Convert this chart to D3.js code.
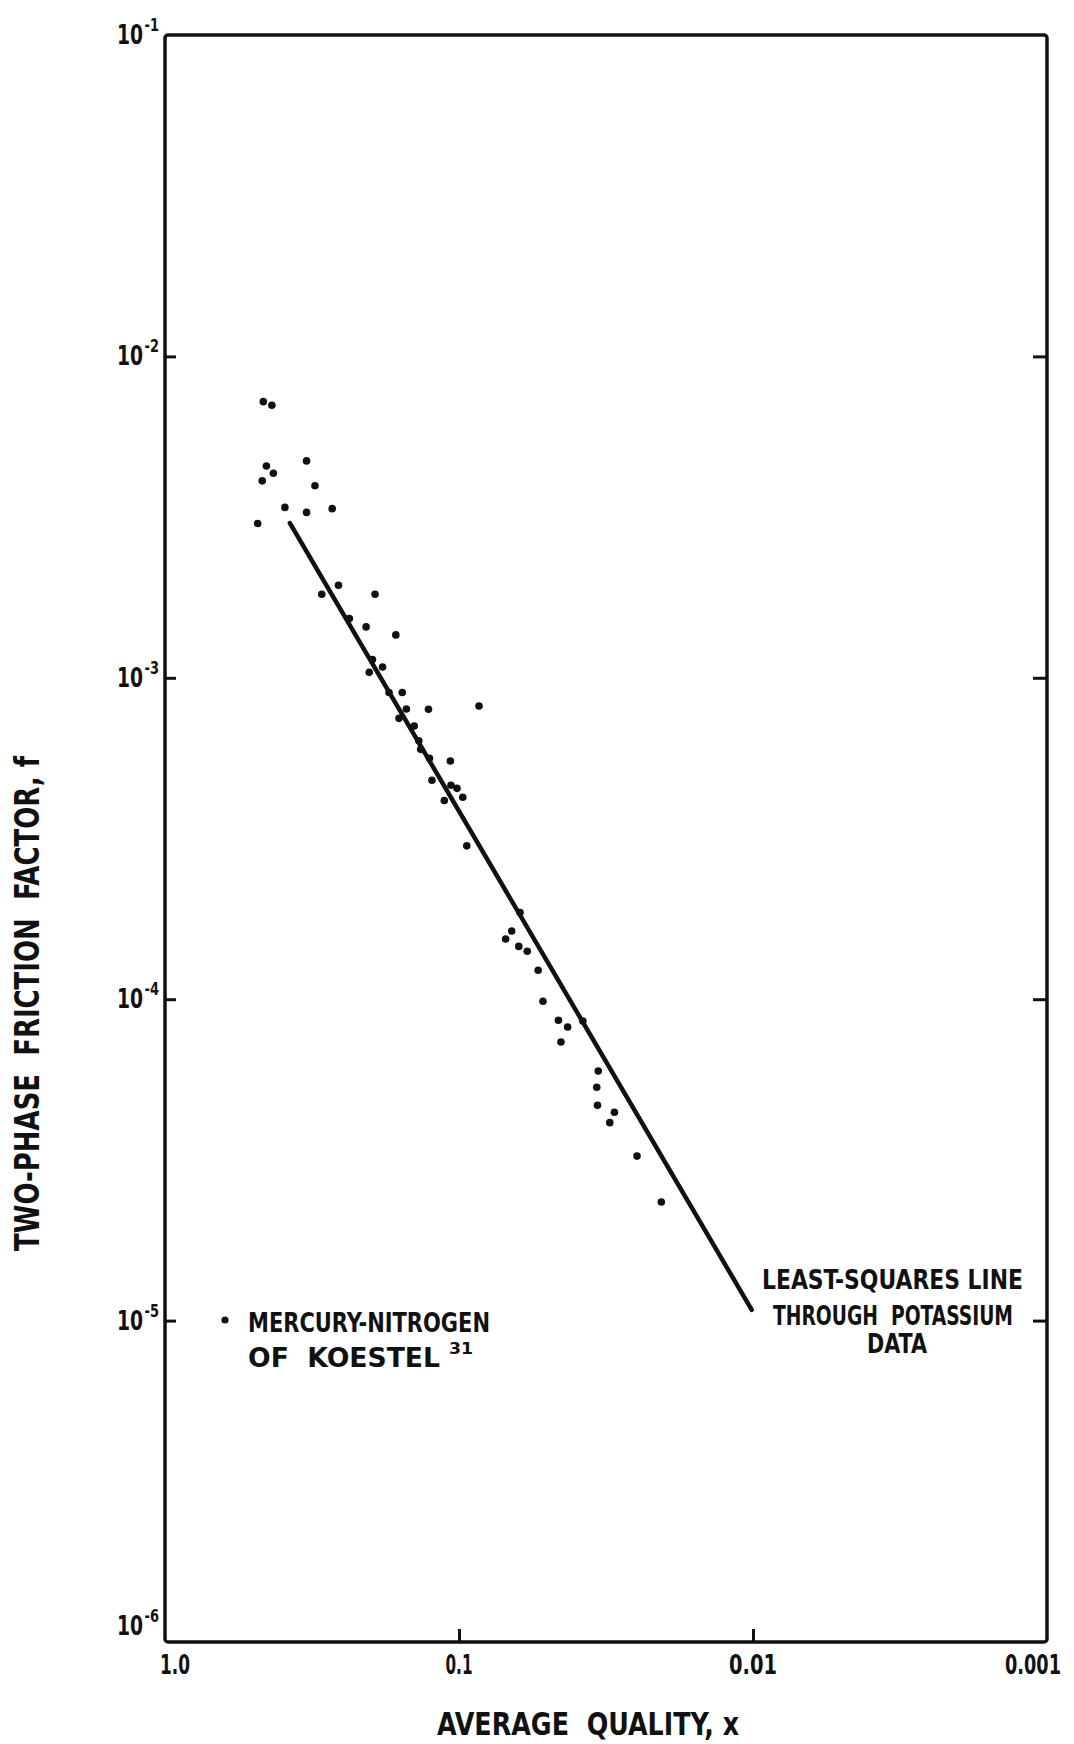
<!DOCTYPE html>
<html>
<head>
<meta charset="utf-8">
<script src="https://cdn.jsdelivr.net/npm/d3@7"></script>
<style>
  html, body { margin: 0; padding: 0; background: #fff; }
  svg { display: block; }
  text {
    font-family: 'DejaVu Sans Condensed', 'DejaVu Sans', sans-serif;
    font-weight: bold;
    fill: #111;
    white-space: pre;
  }
</style>
</head>
<body>
<svg id="chart" width="1074" height="1744"></svg>
<script>
// Mercury-nitrogen two-phase friction data (average quality x, friction factor f)
const qualityX = [
  0.463, 0.433, 0.452, 0.428, 0.467, 0.330, 0.309, 0.391, 0.330, 0.270,
  0.484, 0.293, 0.257, 0.193, 0.236, 0.207, 0.164, 0.197, 0.182, 0.202,
  0.173, 0.156, 0.151, 0.127, 0.0855, 0.160, 0.142, 0.137, 0.135, 0.126,
  0.107, 0.1236, 0.1065, 0.1016, 0.1122, 0.0971, 0.0941, 0.0620, 0.0662, 0.0694,
  0.0626, 0.0586, 0.0538, 0.0518, 0.0459, 0.0427, 0.0450, 0.0379, 0.0336, 0.0340,
  0.0338, 0.0296, 0.0307, 0.0248, 0.0205
];
const frictionF = [
  7.23e-3, 7.05e-3, 4.56e-3, 4.33e-3, 4.10e-3, 4.73e-3, 3.96e-3, 3.39e-3, 3.27e-3, 3.36e-3,
  3.02e-3, 1.82e-3, 1.94e-3, 1.82e-3, 1.53e-3, 1.44e-3, 1.36e-3, 1.14e-3, 1.08e-3, 1.04e-3,
  9.0e-4, 9.0e-4, 8.0e-4, 7.98e-4, 8.17e-4, 7.48e-4, 7.08e-4, 6.37e-4, 5.99e-4, 5.62e-4,
  5.51e-4, 4.80e-4, 4.63e-4, 4.53e-4, 4.15e-4, 4.25e-4, 3.00e-4, 1.86e-4, 1.63e-4, 1.54e-4,
  1.46e-4, 1.41e-4, 1.23e-4, 9.85e-5, 8.60e-5, 8.19e-5, 7.36e-5, 8.55e-5, 5.98e-5, 5.32e-5,
  4.68e-5, 4.45e-5, 4.13e-5, 3.25e-5, 2.34e-5
];

// Least-squares line through the potassium data (end points)
const fitX = [0.376, 0.0101];
const fitF = [3.03e-3, 1.08e-5];

// Axis ticks and labels
const xTickValues = [1, 0.1, 0.01, 0.001];
const xTickLabels = ["1.0", "0.1", "0.01", "0.001"];
const yTickValues = [1e-1, 1e-2, 1e-3, 1e-4, 1e-5, 1e-6];
const yTickExponents = ["-1", "-2", "-3", "-4", "-5", "-6"];

// Titles and annotations
const xTitle = "AVERAGE  QUALITY, x";
const yTitle = "TWO-PHASE  FRICTION  FACTOR, f";
const legendLines = ["MERCURY-NITROGEN", "OF  KOESTEL"];
const legendRef = "31";
const fitLabelLines = ["LEAST-SQUARES LINE", "THROUGH  POTASSIUM", "DATA"];

const ink = "#111";
const L = 165, R = 1047, T = 35, B = 1642;

const x = d3.scaleLog().domain([1, 0.001]).range([L, R]);
const y = d3.scaleLog().domain([1e-1, 1e-6]).range([T, B]);

const svg = d3.select("#chart");

function styleTicks(g) {
  g.select(".domain").remove();
  g.selectAll(".tick line").attr("stroke", ink).attr("stroke-width", 3);
}

// inward tick marks on left, right and bottom edges
const innerY = yTickValues.slice(1, -1);
svg.append("g")
  .attr("transform", `translate(${L},0)`)
  .call(d3.axisLeft(y).tickValues(innerY).tickSize(-11).tickFormat(""))
  .call(styleTicks);
svg.append("g")
  .attr("transform", `translate(${R},0)`)
  .call(d3.axisRight(y).tickValues(innerY).tickSize(-14).tickFormat(""))
  .call(styleTicks);
svg.append("g")
  .attr("transform", `translate(0,${B})`)
  .call(d3.axisBottom(x).tickValues(xTickValues.slice(1, -1)).tickSize(-13).tickFormat(""))
  .call(styleTicks);

// plot frame
svg.append("rect")
  .attr("x", L).attr("y", T)
  .attr("width", R - L).attr("height", B - T)
  .attr("rx", 3)
  .attr("fill", "none")
  .attr("stroke", ink)
  .attr("stroke-width", 3.5);

// y tick labels: "10" with a superscript exponent, narrowed horizontally
yTickValues.forEach((v, i) => {
  const yy = y(v);
  const base = Math.min(yy + 9, B - 7);
  const t = svg.append("text")
    .attr("transform", `translate(159,${base}) scale(0.8,1)`)
    .attr("text-anchor", "end")
    .attr("font-size", 26);
  t.append("tspan").text("10");
  t.append("tspan").attr("dx", 2).attr("dy", -13).attr("font-size", 18).text(yTickExponents[i]);
});

// x tick labels
const xLabelWidths = { "1.0": 30, "0.1": 27, "0.01": 48, "0.001": 56 };
xTickValues.forEach((v, i) => {
  const lab = xTickLabels[i];
  const w = xLabelWidths[lab];
  const cx = Math.max(L + 10, Math.min(R - 14, x(v)));
  svg.append("text")
    .attr("x", cx - w / 2).attr("y", 1674)
    .attr("font-size", 26)
    .attr("textLength", w).attr("lengthAdjust", "spacingAndGlyphs")
    .text(lab);
});

// axis titles
svg.append("text")
  .attr("x", 437).attr("y", 1735)
  .attr("font-size", 32)
  .attr("textLength", 302).attr("lengthAdjust", "spacingAndGlyphs")
  .text(xTitle);

svg.append("text")
  .attr("transform", "translate(39,1251) rotate(-90)")
  .attr("font-size", 33)
  .attr("textLength", 495).attr("lengthAdjust", "spacingAndGlyphs")
  .text(yTitle);

// least-squares line
svg.append("path")
  .datum(d3.zip(fitX, fitF))
  .attr("d", d3.line().x(d => x(d[0])).y(d => y(d[1])))
  .attr("fill", "none")
  .attr("stroke", ink)
  .attr("stroke-width", 4.5)
  .attr("stroke-linecap", "round");

// data points
svg.append("g")
  .selectAll("circle")
  .data(d3.zip(qualityX, frictionF))
  .join("circle")
  .attr("cx", d => x(d[0]))
  .attr("cy", d => y(d[1]))
  .attr("r", 3.8)
  .attr("fill", ink);

// legend
svg.append("circle").attr("cx", 225).attr("cy", 1320).attr("r", 3.6).attr("fill", ink);
svg.append("text")
  .attr("x", 248).attr("y", 1332).attr("font-size", 26)
  .attr("textLength", 242).attr("lengthAdjust", "spacingAndGlyphs")
  .text(legendLines[0]);
svg.append("text")
  .attr("x", 248).attr("y", 1367).attr("font-size", 26)
  .attr("textLength", 192).attr("lengthAdjust", "spacingAndGlyphs")
  .text(legendLines[1]);
svg.append("text")
  .attr("x", 449).attr("y", 1354).attr("font-size", 16)
  .attr("textLength", 24).attr("lengthAdjust", "spacingAndGlyphs")
  .text(legendRef);

// annotation for the fitted line
const fitLabelPos = [
  { x: 762, y: 1289, w: 261 },
  { x: 773, y: 1325, w: 240 },
  { x: 867, y: 1353, w: 60 }
];
fitLabelLines.forEach((s, i) => {
  const p = fitLabelPos[i];
  svg.append("text")
    .attr("x", p.x).attr("y", p.y).attr("font-size", 26)
    .attr("textLength", p.w).attr("lengthAdjust", "spacingAndGlyphs")
    .text(s);
});
</script>
</body>
</html>
